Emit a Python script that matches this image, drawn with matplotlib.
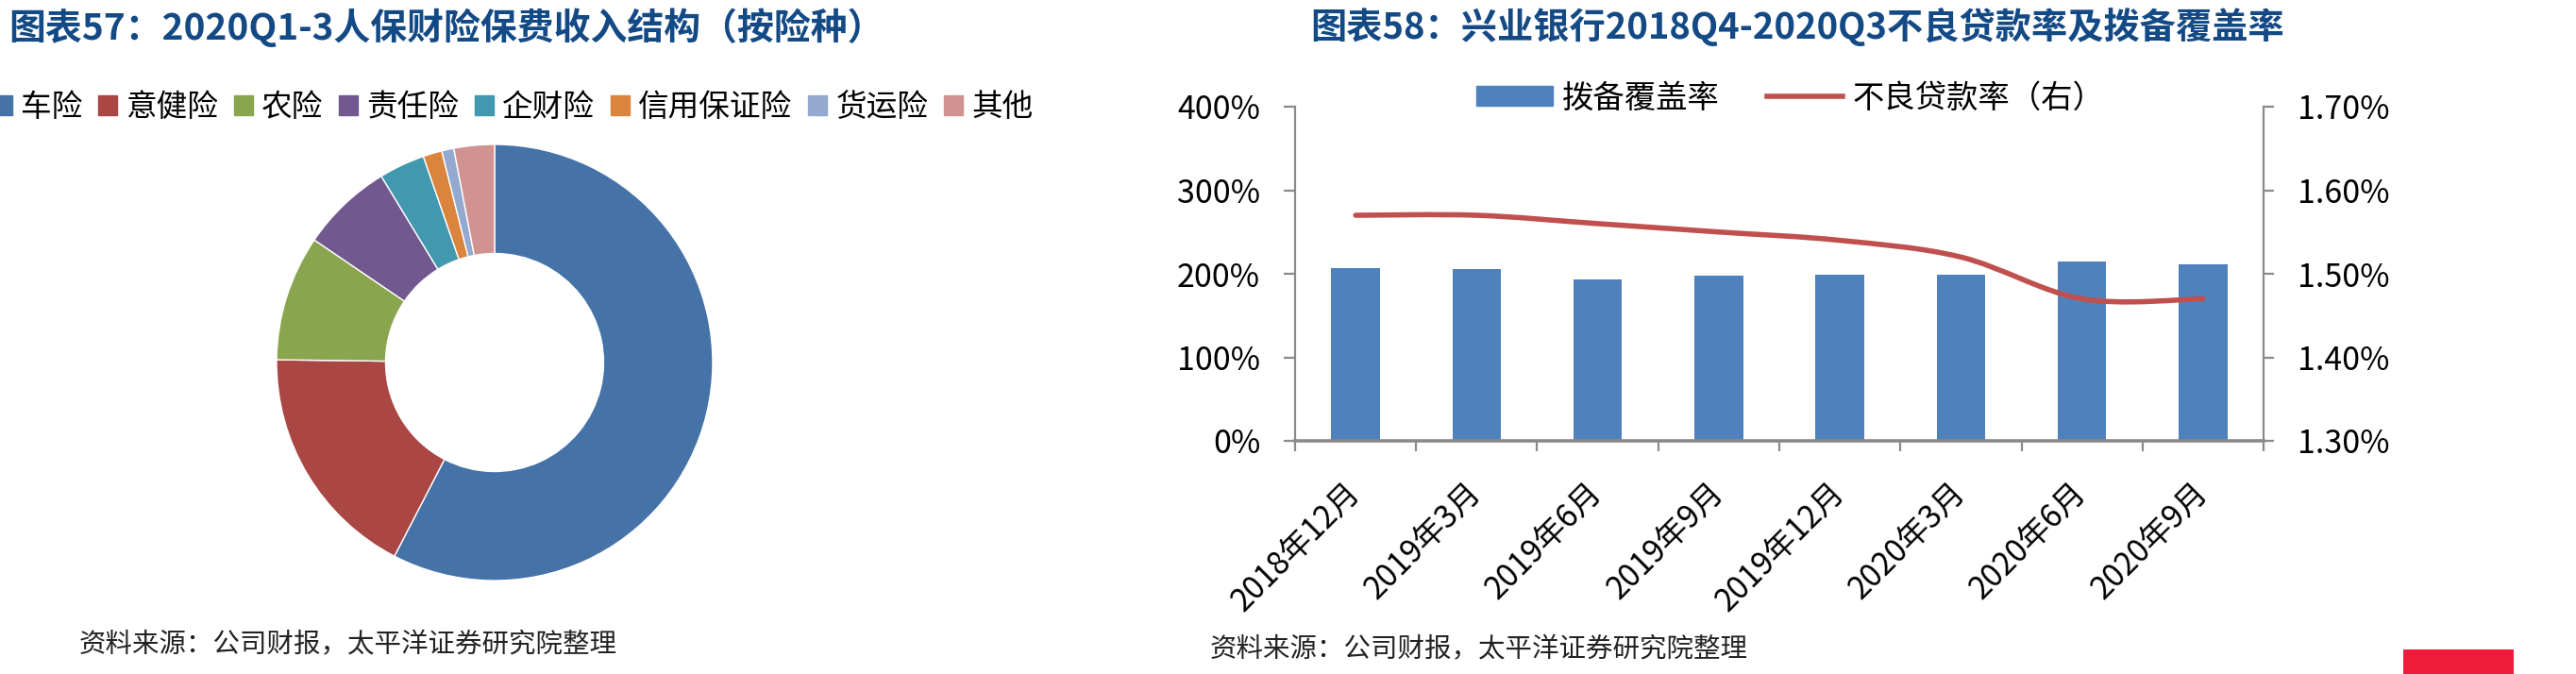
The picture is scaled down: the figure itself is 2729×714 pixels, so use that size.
import matplotlib
matplotlib.use('Agg')
import matplotlib.pyplot as plt
import numpy as np
from matplotlib.path import Path
from matplotlib.patches import PathPatch, Patch, Rectangle
from matplotlib.lines import Line2D

plt.rcParams['font.family'] = ['Noto Sans CJK SC', 'DejaVu Sans']

# ---- data ----
pie_labels = ['车险', '意健险', '农险', '责任险', '企财险', '信用保证险', '货运险', '其他']
pie_shares = [57.6, 17.6, 9.3, 6.8, 3.4, 1.4, 0.9, 3.0]
pie_colors = ['#4572A7', '#AA4643', '#89A54E', '#71588F', '#4198AF', '#DB843D', '#93A9CF', '#D19392']

months = ['2018年12月', '2019年3月', '2019年6月', '2019年9月',
          '2019年12月', '2020年3月', '2020年6月', '2020年9月']
coverage = [207.3, 205.3, 193.2, 197.8, 199.1, 199.4, 214.6, 211.3]   # 拨备覆盖率 %
npl = [1.57, 1.57, 1.56, 1.55, 1.54, 1.52, 1.47, 1.47]               # 不良贷款率 %

W, H = 2729, 714
fig = plt.figure(figsize=(W / 100, H / 100), dpi=100)

TITLE_C = '#134A85'
GRAY = '#8A8A8A'


def px_axes(x0, y0, x1, y1):
    # pixel box (top-left origin) -> figure axes
    return fig.add_axes([x0 / W, 1 - y1 / H, (x1 - x0) / W, (y1 - y0) / H])


# ---- titles ----
fig.text(9 / W, 1 - 29 / H, '图表57：2020Q1-3人保财险保费收入结构（按险种）',
         fontsize=28, weight='bold', color=TITLE_C, va='center')
fig.text(1388 / W, 1 - 29 / H, '图表58：兴业银行2018Q4-2020Q3不良贷款率及拨备覆盖率',
         fontsize=27.5, weight='bold', color=TITLE_C, va='center')

# ---- donut ----
cx, cy, r = 524, 384, 231
axp = px_axes(cx - r, cy - r, cx + r, cy + r)
axp.pie(pie_shares, colors=pie_colors, startangle=90, counterclock=False, radius=1,
        wedgeprops=dict(width=0.5, edgecolor='white', linewidth=1))
axp.set_xlim(-1, 1)
axp.set_ylim(-1, 1)
axp.set_aspect('equal')
axp.axis('off')

fs_leg = 23.5
fig.legend([Patch(color=c) for c in pie_colors], pie_labels, ncol=8,
           loc='center left', bbox_to_anchor=(-7 / W, 1 - 114 / H),
           frameon=False, fontsize=fs_leg, borderpad=0, borderaxespad=0,
           handlelength=0.61, handleheight=0.58, handletextpad=0.28,
           columnspacing=0.52)

# ---- bar + line ----
ax = px_axes(1372, 113, 2398, 467)
x = np.arange(len(months))
ax.bar(x, coverage, width=0.4, color='#4F81BD', zorder=2)
ax.set_xlim(-0.5, len(months) - 0.5)
ax.set_ylim(0, 400)
ax.set_yticks(np.arange(0, 401, 100))
ax.set_yticklabels([f'{v:.0f}%' for v in np.arange(0, 401, 100)])

ax2 = ax.twinx()
ax2.set_ylim(1.3, 1.7)
rt = [1.3, 1.4, 1.5, 1.6, 1.7]
ax2.set_yticks(rt)
ax2.set_yticklabels([f'{v:.2f}%' for v in rt])

# smoothed line (Catmull-Rom through the data points)
pts = np.column_stack([x, npl]).astype(float)
ext = np.vstack([pts[0], pts, pts[-1]])
verts = [pts[0]]
codes = [Path.MOVETO]
for i in range(len(pts) - 1):
    p0, p1, p2, p3 = ext[i], ext[i + 1], ext[i + 2], ext[i + 3]
    verts += [p1 + (p2 - p0) / 6, p2 - (p3 - p1) / 6, p2]
    codes += [Path.CURVE4] * 3
ax2.add_patch(PathPatch(Path(verts, codes), fill=False, edgecolor='#C0504D',
                        linewidth=4, capstyle='round', zorder=3))

for a in (ax, ax2):
    a.spines['top'].set_visible(False)
    for s in ('left', 'right', 'bottom'):
        a.spines[s].set_color(GRAY)
        a.spines[s].set_linewidth(1.6)
ax.spines['right'].set_visible(False)
ax2.spines['left'].set_visible(False)
ax2.spines['bottom'].set_visible(False)
ax.spines['bottom'].set_linewidth(2.6)

ax.tick_params(axis='y', length=8.5, width=1.6, color=GRAY, pad=18, labelsize=24.5)
ax2.tick_params(axis='y', length=8, width=1.6, color=GRAY, pad=18, labelsize=24.5)

ax.set_xticks(x)
ax.set_xticklabels(months, rotation=45, ha='right', va='center', rotation_mode='anchor')
ax.tick_params(axis='x', which='major', length=0, pad=36, labelsize=24)
ax.set_xticks(np.arange(-0.5, len(months), 1), minor=True)
ax.tick_params(axis='x', which='minor', length=8, width=1.6, color=GRAY, direction='out')

fig.legend([Patch(color='#4F81BD'), Line2D([], [], color='#C0504D', lw=4)],
           ['拨备覆盖率', '不良贷款率（右）'], ncol=2,
           loc='center left', bbox_to_anchor=(1564 / W, 1 - 104 / H),
           frameon=False, fontsize=24, borderpad=0, borderaxespad=0,
           handlelength=2.42, handleheight=0.58, handletextpad=0.3,
           columnspacing=1.5)

# ---- footers ----
fig.text(84 / W, 1 - 683 / H, '资料来源：公司财报，太平洋证券研究院整理',
         fontsize=20.5, color='#222222', va='center')
fig.text(1282 / W, 1 - 688 / H, '资料来源：公司财报，太平洋证券研究院整理',
         fontsize=20.5, color='#222222', va='center')
fig.add_artist(Rectangle((2546 / W, 0), 117 / W, 26 / H, transform=fig.transFigure,
                         color='#EE1C3A', lw=0))

fig.savefig('out.png', dpi=100)
